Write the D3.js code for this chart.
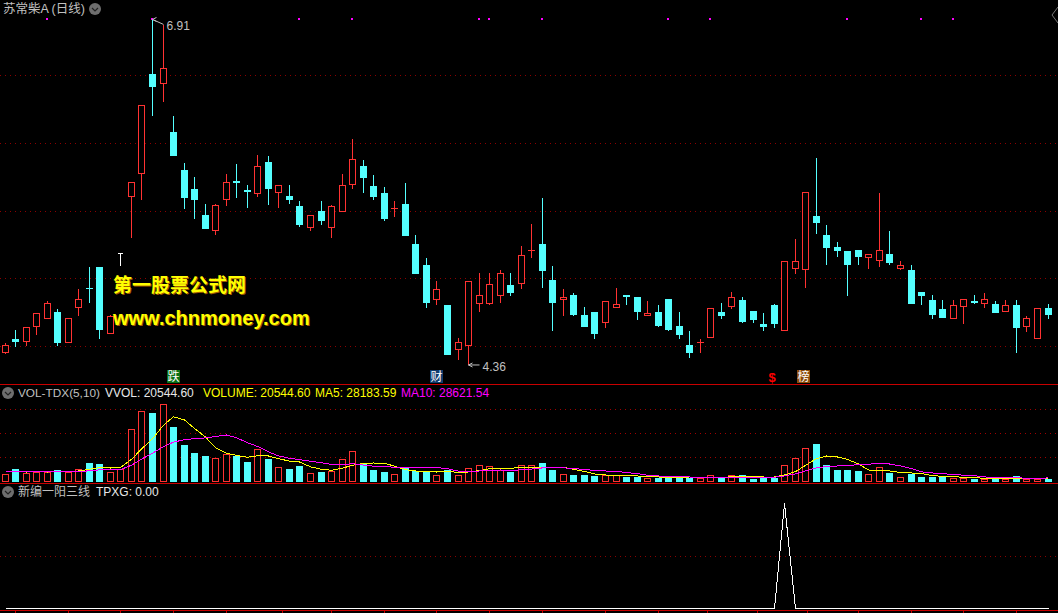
<!DOCTYPE html>
<html>
<head>
<meta charset="utf-8">
<title>苏常柴A (日线)</title>
<style>
    html, body { margin: 0; padding: 0; background: #000; overflow: hidden; }
    text { font-family: "Liberation Sans", "Noto Sans CJK SC", sans-serif; font-size: 12px; }
    .grid path { display: none; }
    .grid line { stroke-dasharray: 1 4; shape-rendering: crispEdges; }
</style>
<script src="https://cdn.jsdelivr.net/npm/d3@7/dist/d3.min.js"></script>
</head>
<body>
<div id="chart"></div>
<script>
// Daily prices, one entry per trading day
const opens = [
    4.45,4.55,4.53,4.64,4.70,4.75,4.52,4.78,4.93,5.08,
    4.59,5.19,5.60,5.77,6.51,6.43,6.08,5.80,5.66,5.47,
    5.35,5.58,5.72,5.65,5.62,5.86,5.63,5.61,5.53,5.37,
    5.50,5.37,5.49,5.69,5.83,5.68,5.63,5.51,5.55,5.25,
    5.10,4.84,4.80,4.47,4.50,4.81,4.81,4.87,4.95,4.96,
    5.20,5.25,4.99,4.84,4.88,4.73,4.75,4.67,4.78,4.88,
    4.86,4.72,4.75,4.85,4.65,4.51,4.52,4.56,4.75,4.79,
    4.84,4.76,4.66,4.80,4.61,5.07,5.06,5.46,5.32,5.23,
    5.20,5.21,5.15,5.13,5.18,5.07,5.06,4.90,4.84,4.77,
    4.70,4.79,4.83,4.81,4.81,4.75,4.80,4.64,4.55,4.78
]
const closes = [
    4.51,4.53,4.64,4.74,4.82,4.52,4.71,4.85,4.92,4.62,
    4.72,5.19,5.71,6.28,6.41,6.55,5.90,5.59,5.58,5.36,
    5.54,5.71,5.70,5.64,5.83,5.66,5.69,5.58,5.39,5.47,
    5.42,5.53,5.69,5.88,5.74,5.60,5.44,5.52,5.31,5.03,
    4.82,4.92,4.43,4.53,4.98,4.88,4.96,5.04,4.89,5.17,
    5.21,5.05,4.82,4.86,4.73,4.64,4.59,4.83,4.81,4.86,
    4.75,4.74,4.65,4.62,4.58,4.45,4.53,4.78,4.72,4.86,
    4.68,4.69,4.64,4.66,5.13,5.13,5.64,5.41,5.22,5.20,
    5.10,5.16,5.18,5.21,5.11,5.10,4.81,4.87,4.73,4.71,
    4.80,4.85,4.82,4.85,4.74,4.80,4.63,4.71,4.78,4.73
]
const highs = [
    4.52,4.62,4.64,4.74,4.83,4.77,4.71,4.92,5.08,5.08,
    4.73,5.19,5.71,6.28,6.91,6.87,6.20,5.85,5.75,5.55,
    5.55,5.77,5.84,5.69,5.91,5.90,5.69,5.69,5.57,5.47,
    5.57,5.54,5.77,6.03,5.87,5.76,5.67,5.57,5.70,5.32,
    5.15,4.98,4.80,4.56,4.98,5.04,5.04,5.06,5.04,5.24,
    5.40,5.59,5.09,4.92,4.89,4.79,4.75,4.83,4.93,4.88,
    4.86,4.83,4.80,4.85,4.75,4.61,4.55,4.78,4.82,4.90,
    4.86,4.76,4.74,4.81,5.13,5.29,5.64,5.89,5.39,5.27,
    5.20,5.21,5.18,5.63,5.35,5.13,5.10,4.90,4.88,4.84,
    4.84,4.85,4.88,4.89,4.83,4.84,4.84,4.72,4.78,4.81
]
const lows = [
    4.44,4.49,4.50,4.58,4.70,4.50,4.52,4.72,4.82,4.55,
    4.59,5.09,5.30,5.58,6.20,6.30,5.90,5.51,5.44,5.36,
    5.32,5.53,5.59,5.52,5.60,5.54,5.52,5.55,5.38,5.35,
    5.39,5.30,5.49,5.66,5.63,5.58,5.42,5.45,5.31,5.03,
    4.78,4.80,4.43,4.40,4.36,4.75,4.80,4.82,4.87,4.92,
    5.15,4.93,4.61,4.72,4.72,4.64,4.55,4.63,4.78,4.80,
    4.69,4.72,4.64,4.61,4.55,4.41,4.45,4.56,4.70,4.77,
    4.67,4.67,4.61,4.63,4.61,5.03,4.93,5.33,5.10,5.16,
    4.87,5.10,5.07,5.08,5.10,5.06,4.81,4.80,4.70,4.71,
    4.70,4.66,4.81,4.78,4.74,4.75,4.45,4.60,4.55,4.70
]

// Volume in thousands
const volumes = [
    56,91,63,70,70,84,70,91,133,126,
    70,91,371,497,483,546,385,259,203,182,
    168,196,182,140,231,161,105,91,112,63,
    70,77,161,217,126,84,70,56,98,77,
    70,49,84,49,98,119,112,84,70,119,
    119,133,84,56,49,49,42,49,49,35,
    35,28,28,28,28,28,28,49,28,49,
    49,21,28,28,119,168,238,266,119,84,
    84,77,56,105,63,35,56,35,35,35,
    28,28,21,21,21,21,42,21,21,20.5446
]
const ma5 = [
    73.5,73.5,70,73.5,70,75.6,71.4,77,89.6,100.8,
    98,102.2,158.2,231,302.4,397.6,456.4,434,375.2,315,
    239.4,201.6,186.2,173.6,183.4,182,163.8,145.6,140,106.4,
    88.2,82.6,96.6,117.6,130.2,133,131.6,110.6,86.8,77,
    74.2,70,75.6,65.8,70,79.8,92.4,92.4,96.6,100.8,
    100.8,105,105,102.2,88.2,74.2,56,49,47.6,44.8,
    42,39.2,35,30.8,29.4,28,28,32.2,32.2,36.4,
    40.6,39.2,35,35,49,72.8,116.2,163.8,182,175,
    158.2,126,84,81.2,77,67.2,63,58.8,44.8,39.2,
    37.8,32.2,29.4,26.6,23.8,22.4,25.2,25.2,25.2,28.18
]
const ma10 = [
    73,73,72,72,72,73,73,74,78,85.4,
    86.8,86.8,117.6,160.3,201.6,247.8,279.3,296.1,303.1,308.7,
    318.5,329,310.1,274.4,249.2,210.7,182.7,165.9,156.8,144.9,
    135.1,123.2,121.1,128.8,118.3,110.6,107.1,103.6,102.2,103.6,
    103.6,100.8,93.1,76.3,73.5,77,81.2,84,81.2,85.4,
    90.3,98.7,98.7,99.4,94.5,87.5,80.5,77,74.9,66.5,
    58.1,47.6,42,39.2,37.1,35,33.6,33.6,31.5,32.9,
    34.3,33.6,33.6,33.6,42.7,56.7,77.7,99.4,108.5,112,
    115.5,121.1,123.9,131.6,126,112.7,94.5,71.4,63,58.1,
    52.5,47.6,44.1,35.7,31.5,30.1,28.7,27.3,25.9,28.62
]

// TPXG signal: fires on a single day
const tpxgDay = 74
const tpxg = opens.map((d, i) => i === tpxgDay ? 1 : 0)

// Days carrying a magenta dot along the top of the price pane
const signalDays = [4, 14, 28, 33, 45, 46, 51, 63, 67, 80, 87, 90]

const priceTicks = [4.5, 5, 5.5, 6, 6.5]
const volumeTicks = [175, 343, 511]
const tpxgTicks = [0.5]
const dateTicks = [1, 6, 11, 16, 21, 26.3, 31, 36, 41, 46, 51, 57, 62, 66.7, 71.4, 76.2, 81, 86, 91, 96]

const RED = '#ff3232'
const CYAN = '#54ffff'
const SEP = '#c80000'

const width = 1058
const height = 613

const svg = d3.select('#chart').append('svg')
    .attr('width', width)
    .attr('height', height)
    .style('display', 'block')
    .style('background', '#000')

const x = d3.scaleLinear().domain([0, 99]).range([4.5, 1047.5])
const px = i => Math.round(x(i))

const yPrice = d3.scaleLinear().domain([4.5, 6.5]).range([346, 75])
const yVol = d3.scaleLinear().domain([0, 700]).range([482, 382])
const yTpxg = d3.scaleLinear().domain([0, 1]).range([608, 503])

function drawGrid(scale, ticks, color) {
    svg.append('g')
        .attr('class', 'grid')
        .call(d3.axisLeft(scale).tickValues(ticks).tickSize(-width).tickFormat(''))
        .selectAll('line')
        .attr('stroke', color)
}

drawGrid(yPrice, priceTicks, '#8c0000')
drawGrid(yVol, volumeTicks, '#a00000')
drawGrid(yTpxg, tpxgTicks, '#8c0000')

// Pane separators
const separators = [384, 483, 610]
svg.selectAll('.sep')
    .data(separators)
    .join('rect')
    .attr('class', 'sep')
    .attr('x', 0)
    .attr('y', d => d)
    .attr('width', width)
    .attr('height', 1)
    .attr('fill', SEP)

// date ticks under the last separator
svg.append('g')
    .attr('transform', 'translate(0,610)')
    .call(d3.axisBottom(x).tickValues(dateTicks).tickSize(3).tickFormat(''))
    .call(g => g.select('path').remove())
    .selectAll('line')
    .attr('stroke', SEP)
    .attr('shape-rendering', 'crispEdges')

// Candles
const days = opens.map((o, i) => ({i, o, h: highs[i], l: lows[i], c: closes[i], v: volumes[i]}))
const candleColor = d => d.o === d.c ? '#fff' : d.c > d.o ? RED : CYAN

// A filled box, or hollow when the day closed up; thin boxes stay solid
function drawBox(g, i, top, bottom, color, halfWidth) {
    const hollow = color === RED && bottom - top > 2
    if (hollow) {
        g.append('rect')
            .attr('x', px(i) - halfWidth + 0.5)
            .attr('y', top + 0.5)
            .attr('width', halfWidth * 2)
            .attr('height', bottom - top - 1)
            .attr('fill', '#000')
            .attr('stroke', color)
    } else {
        g.append('rect')
            .attr('x', px(i) - halfWidth)
            .attr('y', top)
            .attr('width', halfWidth * 2 + 1)
            .attr('height', Math.max(1, bottom - top))
            .attr('fill', color)
    }
}

const candles = svg.append('g').attr('shape-rendering', 'crispEdges')
days.forEach(d => {
    const color = candleColor(d)
    candles.append('rect')
        .attr('x', px(d.i))
        .attr('y', Math.round(yPrice(d.h)))
        .attr('width', 1)
        .attr('height', Math.round(yPrice(d.l)) - Math.round(yPrice(d.h)))
        .attr('fill', color)
    const top = Math.round(yPrice(Math.max(d.o, d.c)))
    const bottom = Math.round(yPrice(Math.min(d.o, d.c)))
    drawBox(candles, d.i, top, bottom, color, d.o === d.c ? 2 : 3)
})

// Signal dots
svg.append('g').attr('shape-rendering', 'crispEdges')
    .selectAll('rect')
    .data(signalDays)
    .join('rect')
    .attr('x', d => px(d) - 1)
    .attr('y', Math.round(yPrice(6.91)) - 1)
    .attr('width', 2)
    .attr('height', 2)
    .attr('fill', '#ff00ff')

// High and low callouts
function callout(i, price, dx, dy, label) {
    const x0 = px(i) + 0.5
    const y0 = yPrice(price)
    const x1 = x0 + dx
    const y1 = y0 + dy
    svg.append('path')
        .attr('d', `M${x1},${y1}L${x0},${y0}M${x0 + 4},${y0 - 2}L${x0},${y0}L${x0 + 4},${y0 + 2}`)
        .attr('fill', 'none')
        .attr('stroke', '#c0c0c0')
    svg.append('text')
        .attr('x', x1 + 3)
        .attr('y', y1 + 6)
        .attr('fill', '#c0c0c0')
        .text(label)
}
callout(14, 6.91, 11, 5, '6.91')
callout(44, 4.36, 11, 0, '4.36')

// Event tags above the price pane separator
const tags = [
    {text: '跌', i: 16, bg: '#0a6e14'},
    {text: '财', i: 41, bg: '#0f3c6e'},
    {text: '榜', i: 75.8, bg: '#8c4b0a'}
]
tags.forEach(t => {
    const cx = x(t.i)
    svg.append('rect')
        .attr('x', Math.round(cx) - 6)
        .attr('y', 370)
        .attr('width', 13)
        .attr('height', 13)
        .attr('fill', t.bg)
    svg.append('text')
        .attr('x', Math.round(cx) + 0.5)
        .attr('y', 381)
        .attr('text-anchor', 'middle')
        .attr('fill', '#fff')
        .text(t.text)
})
svg.append('text')
    .attr('x', 772)
    .attr('y', 382)
    .attr('text-anchor', 'middle')
    .attr('fill', '#ff0000')
    .attr('font-weight', 'bold')
    .style('font-size', '13px')
    .text('$')

// Watermark
const watermark = [
    {text: '第一股票公式网', y: 292, size: 19, family: '"Noto Sans CJK SC"'},
    {text: 'www.chnmoney.com', y: 325, size: 20, family: '"Liberation Sans"'}
]
watermark.forEach(w => {
    svg.append('text')
        .attr('x', 113)
        .attr('y', w.y)
        .attr('fill', '#ffff00')
        .attr('font-weight', 'bold')
        .style('font-size', `${w.size}px`)
        .style('font-family', w.family)
        .style('text-shadow', '1px 1px 0 #a05a00')
        .text(w.text)
})

// Volume bars and averages
const bars = svg.append('g').attr('shape-rendering', 'crispEdges')
days.forEach(d => {
    drawBox(bars, d.i, Math.round(yVol(d.v)), yVol(0), d.c >= d.o ? RED : CYAN, 3)
})

const maLine = d3.line()
    .x((d, i) => px(i) + 0.5)
    .y(d => yVol(d))

const lines = [{values: ma5, color: '#ffff00'}, {values: ma10, color: '#ff00ff'}]
lines.forEach(l => {
    svg.append('path')
        .attr('d', maLine(l.values))
        .attr('fill', 'none')
        .attr('stroke', l.color)
        .attr('shape-rendering', 'crispEdges')
})

// TPXG pane
const tpxgLine = d3.line()
    .x((d, i) => px(i) + 0.5)
    .y(d => yTpxg(d) + 0.5)
svg.append('path')
    .attr('d', tpxgLine(tpxg))
    .attr('fill', 'none')
    .attr('stroke', '#fff')
    .attr('shape-rendering', 'crispEdges')

// Pane headers
const headers = [
    {text: '苏常柴A (日线)', x: 3, y: 13, color: '#c0c0c0', size: 12.5},
    {text: 'VOL-TDX(5,10)', x: 18, y: 397, color: '#c0c0c0', size: 11.8},
    {text: 'VVOL: 20544.60', x: 105, y: 397, color: '#e8e8e8'},
    {text: 'VOLUME: 20544.60', x: 203, y: 397, color: '#ffff00'},
    {text: 'MA5: 28183.59', x: 315, y: 397, color: '#ffff00'},
    {text: 'MA10: 28621.54', x: 401, y: 397, color: '#ff00ff'},
    {text: '新编一阳三线', x: 18, y: 496, color: '#c0c0c0'},
    {text: 'TPXG: 0.00', x: 96, y: 496, color: '#e8e8e8'}
]
headers.forEach(h => {
    svg.append('text')
        .attr('x', h.x)
        .attr('y', h.y)
        .attr('fill', h.color)
        .style('font-size', `${h.size || 12}px`)
        .text(h.text)
})

// Collapse buttons
const buttons = [[95, 9], [8, 393], [8, 492]]
buttons.forEach(([cx, cy]) => {
    svg.append('circle')
        .attr('cx', cx)
        .attr('cy', cy)
        .attr('r', 6)
        .attr('fill', '#6e6e6e')
    svg.append('path')
        .attr('d', `M${cx - 3},${cy - 1}L${cx},${cy + 2}L${cx + 3},${cy - 1}`)
        .attr('fill', 'none')
        .attr('stroke', '#222')
        .attr('stroke-width', 1.2)
})

// Side panel handle, top right
svg.append('path')
    .attr('d', 'M1058,7L1052,15L1058,23')
    .attr('fill', 'none')
    .attr('stroke', '#777')
</script>
</body>
</html>
